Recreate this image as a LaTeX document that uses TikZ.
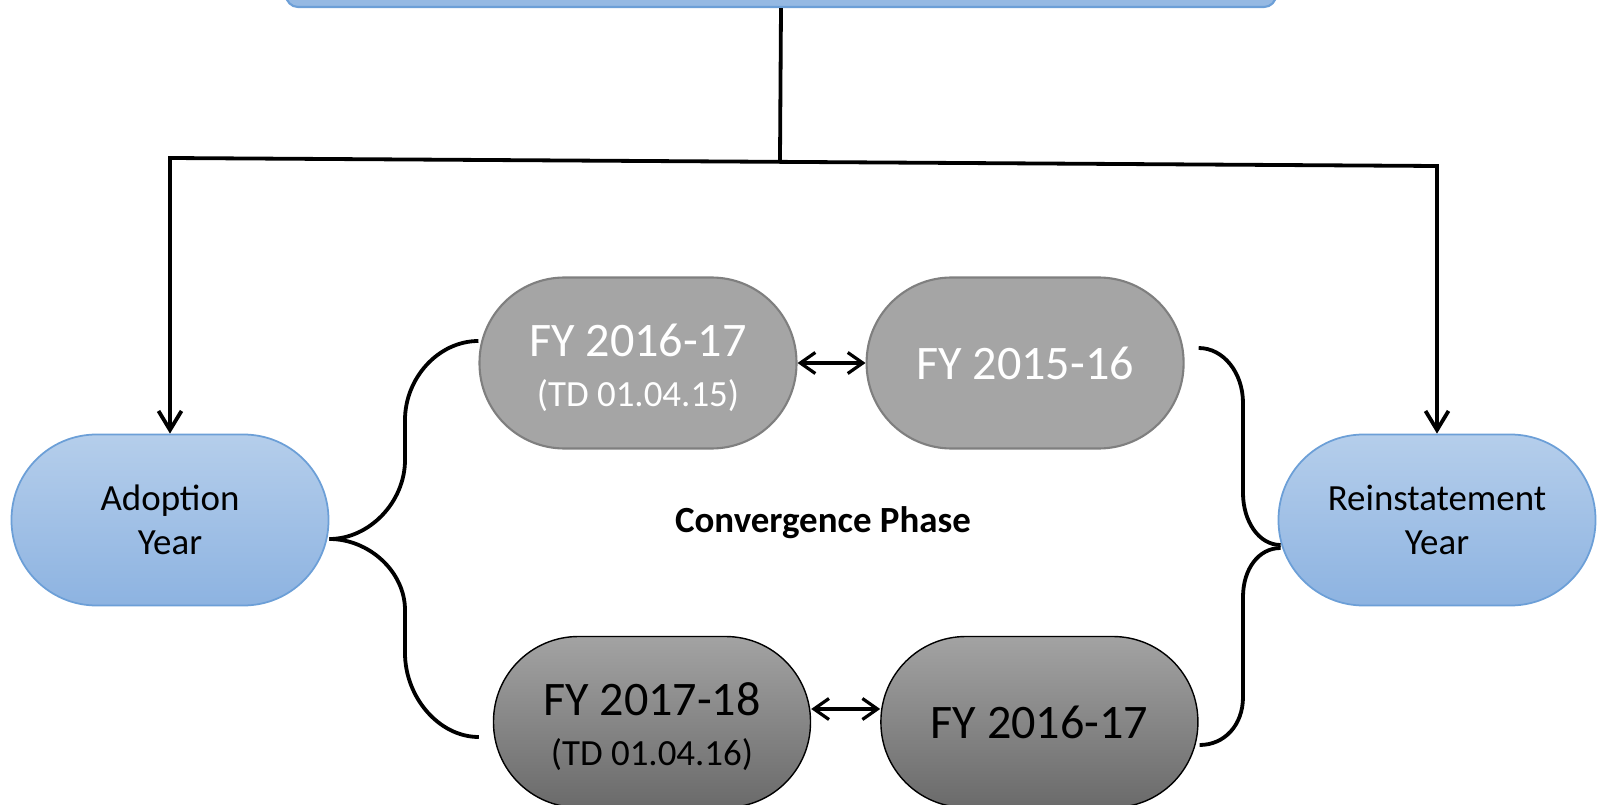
\documentclass[tikz,border=0pt]{standalone}
\usepackage{fontspec}
\setmainfont{Carlito}
\usepackage{xcolor}
\usetikzlibrary{arrows.meta,positioning,calc}

\definecolor{skyfill}{HTML}{95B9E3}
\definecolor{skyline}{HTML}{6C9FD7}
\definecolor{skytop}{HTML}{B5CEEB}
\definecolor{skybot}{HTML}{8DB3E1}
\definecolor{greyfill}{HTML}{A5A5A5}
\definecolor{greyline}{HTML}{7F7F7F}
\definecolor{darktop}{HTML}{A3A3A3}
\definecolor{darkbot}{HTML}{6A6A6A}

\newcommand{\lift}{\rule{0pt}{12pt}}

\begin{document}
\begin{tikzpicture}[
x=0.1mm, y=-0.1mm,
rootbox/.style={draw=skyline, fill=skyfill, line width=0.6pt, rounded corners=1.2mm, minimum width=99mm, minimum height=14mm},
yearbox/.style={draw=skyline, top color=skytop, bottom color=skybot, line width=0.5pt, rounded corners=8.5mm, minimum width=31.7mm, minimum height=17.1mm, align=center, font=\fontsize{10.5}{12.6}\selectfont},
fybox/.style={draw=greyline, fill=greyfill, text=white, line width=0.6pt, rounded corners=8.5mm, minimum width=31.7mm, minimum height=17.1mm, align=center, font=\fontsize{13.7}{14}\selectfont},
fydark/.style={fybox, draw=black, top color=darktop, bottom color=darkbot, text=black, line width=0.4pt},
small/.style={font=\fontsize{10.5}{12}\selectfont},
arr/.style={-{Straight Barb[length=1.9mm,width=2.3mm]}, line width=0.38mm},
twoway/.style={{Straight Barb[length=1.5mm,width=2.1mm]}-{Straight Barb[length=1.5mm,width=2.1mm]}, line width=0.32mm},
brace/.style={line width=0.38mm}
]
\useasboundingbox (0,0) rectangle (1600,805);

\node[rootbox] (root) at (781,-63) {};

\node[yearbox] (adopt) at (170,520) {Adoption\\Year};
\node[yearbox] (reinst) at (1437,520) {Reinstatement\\Year};

\node[fybox] (fy1617a) at (638,363) {\lift FY 2016-17\\{\fontsize{10.5}{12}\selectfont (TD 01.04.15)}};
\node[fybox, right=6.8mm of fy1617a] (fy1516) {FY 2015-16};

\node[fydark] (fy1718) at (652,722) {\lift FY 2017-18\\{\fontsize{10.5}{12}\selectfont (TD 01.04.16)}};
\node[fydark, right=6.9mm of fy1718] (fy1617b) {FY 2016-17};

\node[small, font=\bfseries\fontsize{10.5}{12}\selectfont] (phase) at (823,523) {Convergence Phase};

\coordinate (jl) at (170,158);
\coordinate (jr) at (1437,166);
\coordinate (mid) at ($(jl)!(root.south)!(jr)$);

\draw[line width=0.38mm] (root.south) -- (mid);
\draw[arr] (mid) -- (jl) -- (adopt.north);
\draw[arr] (mid) -- (jr) -- (reinst.north);

\draw[twoway] (fy1617a.east) -- (fy1516.west);
\draw[twoway] ([yshift=1.3mm]fy1718.east) -- ([yshift=1.3mm]fy1617b.west);

\draw[brace] ([yshift=-1.9mm]adopt.east) .. controls +(40,0) and +(0,42) .. (405,460) -- (405,420) .. controls +(0,-42) and +(-40,0) .. ([yshift=2.2mm]fy1617a.west);
\draw[brace] ([yshift=-1.9mm]adopt.east) .. controls +(40,0) and +(0,-38) .. (405,610) -- (405,653) .. controls +(0,44) and +(-40,0) .. ([xshift=-1.4mm,yshift=-1.5mm]fy1718.west);
\draw[brace] ([xshift=1.4mm,yshift=1.5mm]fy1516.east) .. controls +(25,0) and +(0,-30) .. (1243,403) -- (1243,493) .. controls +(0,28) and +(-22,0) .. ([xshift=0.3mm,yshift=-2.5mm]reinst.west);
\draw[brace] ([xshift=0.3mm,yshift=-2.8mm]reinst.west) .. controls +(-22,0) and +(0,-28) .. (1243,597) -- (1243,697) .. controls +(0,28) and +(25,0) .. ([xshift=0.1mm,yshift=-2.3mm]fy1617b.east);

\end{tikzpicture}
\end{document}
